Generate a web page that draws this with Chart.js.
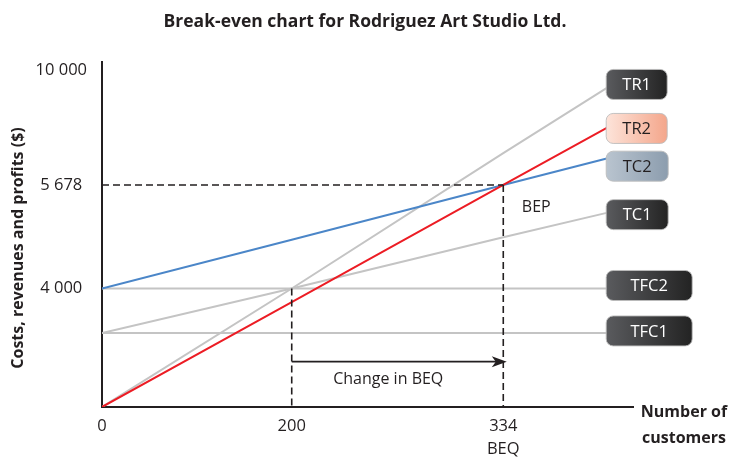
<!DOCTYPE html>
<html>
<head>
<meta charset="utf-8">
<title>Break-even chart for Rodriguez Art Studio Ltd.</title>
<script src="https://cdn.jsdelivr.net/npm/chart.js@4.4.0/dist/chart.umd.min.js"></script>
<style>
  html, body { margin: 0; padding: 0; background: #fff; }
  #wrap { width: 737px; height: 459px; }
</style>
</head>
<body>
<div id="wrap"><canvas id="breakEven"></canvas></div>
<script>
// number of customers (x) and $ (y)
const customers = [0, 200, 334, 400];
const tr1 = [0, 4000, 6880, 9360];
const tr2 = [0, 3540, 5678, 7850];
const tc2 = [4000, 4790, 5678, 6690];
const tc1 = [2500, 4000, 4830, 5230];
const tfc2 = [4000, 4000, 4000, 4000];
const tfc1 = [2500, 2500, 2500, 2500];

const xTicks = [0, 200, 334];
const xTickLabels = ['0', '200', ['334', 'BEQ']];
const yTicks = [4000, 5678, 10000];
const yTickLabels = ['4 000', '5 678', '10 000'];

const bep = [334, 5678];      // new break-even point
const oldBep = [200, 4000];   // where TR1 meets TC1
const arrowAt = 1530;         // height of the "change in BEQ" arrow

const TITLE = 'Break-even chart for Rodriguez Art Studio Ltd.';
const FONT = "'Open Sans', sans-serif";
const INK = '#231f20';

// the drawing is not to scale, so the axes are piecewise linear between the labelled values
class KnotScale extends Chart.LinearScale {
  static id = 'knots';
  toDecimal(v) {
    const k = this.options.knots;
    let i = 1;
    while (i < k.length - 1 && v > k[i][0]) i++;
    const a = k[i - 1], b = k[i];
    return a[1] + (v - a[0]) / (b[0] - a[0]) * (b[1] - a[1]);
  }
  fromDecimal(d) {
    const k = this.options.knots;
    let i = 1;
    while (i < k.length - 1 && d > k[i][1]) i++;
    const a = k[i - 1], b = k[i];
    return a[0] + (d - a[1]) / (b[1] - a[1]) * (b[0] - a[0]);
  }
  getPixelForValue(value) {
    if (value === null || value === undefined) return NaN;
    return this.getPixelForDecimal(this.toDecimal(value));
  }
  getValueForPixel(pixel) {
    return this.fromDecimal(this.getDecimalForPixel(pixel));
  }
}
Chart.register(KnotScale);

function pts(vals) {
  return customers.map((c, i) => ({ x: c, y: vals[i] }));
}

const tags = [
  { text: 'TR1', vals: tr1, w: 61, dy: -3, fill: ['#5a5b5e', '#232323'], color: '#fff' },
  { text: 'TR2', vals: tr2, w: 61, dy: 1, fill: ['#fde4da', '#f4a68b'], color: INK },
  { text: 'TC2', vals: tc2, w: 62, dy: 8, fill: ['#b9c4cf', '#8c9dae'], color: INK },
  { text: 'TC1', vals: tc1, w: 62, dy: 2, fill: ['#5a5b5e', '#232323'], color: '#fff' },
  { text: 'TFC2', vals: tfc2, w: 86, dy: -3, fill: ['#5a5b5e', '#232323'], color: '#fff' },
  { text: 'TFC1', vals: tfc1, w: 86, dy: -2, fill: ['#5a5b5e', '#232323'], color: '#fff' }
];

function roundRect(ctx, x, y, w, h, r) {
  ctx.beginPath();
  ctx.moveTo(x + r, y);
  ctx.arcTo(x + w, y, x + w, y + h, r);
  ctx.arcTo(x + w, y + h, x, y + h, r);
  ctx.arcTo(x, y + h, x, y, r);
  ctx.arcTo(x, y, x + w, y, r);
  ctx.closePath();
}

const annotate = {
  id: 'annotate',
  afterDatasetsDraw(chart) {
    const { ctx, scales: { x, y } } = chart;
    ctx.save();

    // dashed guides to the break-even points
    ctx.strokeStyle = INK;
    ctx.lineWidth = 1.6;
    ctx.setLineDash([7, 4]);
    ctx.beginPath();
    ctx.moveTo(x.left, y.getPixelForValue(bep[1]));
    ctx.lineTo(x.getPixelForValue(bep[0]), y.getPixelForValue(bep[1]));
    ctx.moveTo(x.getPixelForValue(bep[0]), y.getPixelForValue(bep[1]));
    ctx.lineTo(x.getPixelForValue(bep[0]), y.bottom);
    ctx.moveTo(x.getPixelForValue(oldBep[0]), y.getPixelForValue(oldBep[1]));
    ctx.lineTo(x.getPixelForValue(oldBep[0]), y.bottom);
    ctx.stroke();
    ctx.setLineDash([]);

    // arrow
    const ay = y.getPixelForValue(arrowAt);
    const ax0 = x.getPixelForValue(oldBep[0]);
    const tip = x.getPixelForValue(bep[0]) + 3.5;
    ctx.beginPath();
    ctx.moveTo(ax0, ay);
    ctx.lineTo(tip - 10, ay);
    ctx.stroke();
    ctx.fillStyle = INK;
    ctx.beginPath();
    ctx.moveTo(tip, ay);
    ctx.lineTo(tip - 15, ay - 5.5);
    ctx.lineTo(tip - 11, ay);
    ctx.lineTo(tip - 15, ay + 5.5);
    ctx.closePath();
    ctx.fill();

    ctx.font = '16px ' + FONT;
    ctx.textAlign = 'center';
    ctx.textBaseline = 'middle';
    ctx.fillText('Change in BEQ', (ax0 + tip) / 2 - 11, ay + 18);
    ctx.fillText('BEP', x.getPixelForValue(bep[0]) + 33, y.getPixelForValue(bep[1]) + 22);

    // end labels
    const endX = x.getPixelForValue(customers[customers.length - 1]);
    ctx.font = '16.5px ' + FONT;
    tags.forEach(t => {
      const cy = y.getPixelForValue(t.vals[t.vals.length - 1]) + t.dy;
      const bx = endX - 1.5, by = cy - 15;
      const g = ctx.createLinearGradient(bx, 0, bx + t.w, 0);
      g.addColorStop(0, t.fill[0]);
      g.addColorStop(1, t.fill[1]);
      roundRect(ctx, bx, by, t.w, 30, 7);
      ctx.fillStyle = g;
      ctx.fill();
      ctx.strokeStyle = 'rgba(190,190,190,0.9)';
      ctx.lineWidth = 1;
      ctx.stroke();
      ctx.fillStyle = t.color;
      ctx.fillText(t.text, bx + t.w / 2, cy + 1);
    });
    ctx.restore();
  },
  afterDraw(chart) {
    const { ctx, scales: { x, y } } = chart;
    ctx.save();
    ctx.fillStyle = INK;
    ctx.textAlign = 'center';
    ctx.textBaseline = 'middle';
    // title, centred on the picture rather than on the plot
    ctx.font = 'bold 17.5px ' + FONT;
    ctx.fillText(TITLE, 365, 22);
    // x axis title sits past the end of the axis
    ctx.font = 'bold 16px ' + FONT;
    ctx.fillText('Number of', x.right + 51, y.bottom + 5);
    ctx.fillText('customers', x.right + 51, y.bottom + 31);
    // y axis title
    ctx.translate(18.5, 248);
    ctx.rotate(-Math.PI / 2);
    ctx.fillText('Costs, revenues and profits ($)', 0, 0);
    ctx.restore();
  }
};

Chart.defaults.font.family = FONT;
Chart.defaults.color = INK;

const lineStyle = { borderWidth: 2, pointRadius: 0, fill: false, tension: 0 };

new Chart(document.getElementById('breakEven'), {
  type: 'line',
  data: {
    datasets: [
      Object.assign({ label: 'TR2', data: pts(tr2), borderColor: '#ec1c24' }, lineStyle),
      Object.assign({ label: 'TC2', data: pts(tc2), borderColor: '#4b86c8' }, lineStyle),
      Object.assign({ label: 'TR1', data: pts(tr1), borderColor: '#c4c4c4' }, lineStyle),
      Object.assign({ label: 'TC1', data: pts(tc1), borderColor: '#c4c4c4' }, lineStyle),
      Object.assign({ label: 'TFC2', data: pts(tfc2), borderColor: '#c4c4c4' }, lineStyle),
      Object.assign({ label: 'TFC1', data: pts(tfc1), borderColor: '#c4c4c4' }, lineStyle)
    ]
  },
  options: {
    responsive: true,
    maintainAspectRatio: false,
    animation: false,
    layout: { padding: { left: 0, right: 104, top: 62, bottom: 0 } },
    plugins: {
      legend: { display: false },
      tooltip: { enabled: false },
      title: { display: false }
    },
    scales: {
      x: {
        type: 'knots',
        knots: [[0, 0], [200, 0.3573], [334, 0.7557], [416, 1]],
        min: 0,
        max: 416,
        grid: { display: false, drawTicks: false },
        border: { color: INK, width: 2 },
        ticks: {
          autoSkip: false,
          maxRotation: 0,
          padding: 8,
          font: { size: 16.5, lineHeight: 1.4 },
          callback: v => xTickLabels[xTicks.indexOf(v)]
        },
        afterBuildTicks: axis => { axis.ticks = xTicks.map(v => ({ value: v })); },
        afterFit: axis => { axis.height = 52; }
      },
      y: {
        type: 'knots',
        knots: [[0, 0], [4000, 0.3435], [5678, 0.6435], [10000, 0.9754], [10320, 1]],
        min: 0,
        max: 10320,
        grid: { display: false, drawTicks: false },
        border: { color: INK, width: 2 },
        ticks: {
          autoSkip: false,
          crossAlign: 'center',
          padding: 15,
          font: { size: 16.5 },
          callback: v => yTickLabels[yTicks.indexOf(v)]
        },
        afterBuildTicks: axis => { axis.ticks = yTicks.map(v => ({ value: v })); },
        afterFit: axis => { axis.width = 102; }
      }
    }
  },
  plugins: [annotate]
});
</script>
</body>
</html>
